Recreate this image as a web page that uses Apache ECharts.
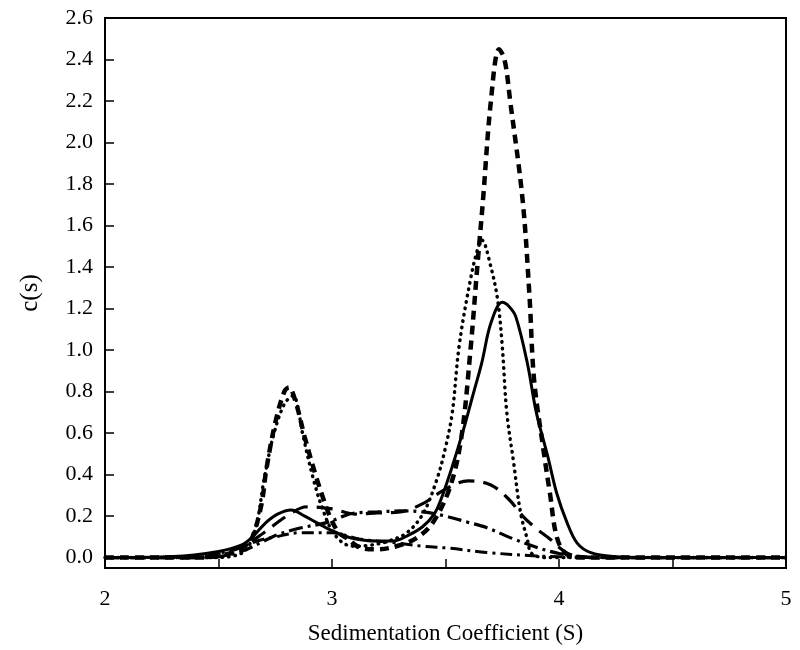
<!DOCTYPE html>
<html>
<head>
<meta charset="utf-8">
<script src="https://cdn.jsdelivr.net/npm/echarts@6/dist/echarts.min.js"></script>
<style>html,body{margin:0;padding:0;background:#fff}#c{width:800px;height:650px}</style>
</head>
<body>
<div id="c"></div>
<script>
// Tick labels
const xTicks = [2, 3, 4, 5];
const yTicks = [0, 0.2, 0.4, 0.6, 0.8, 1.0, 1.2, 1.4, 1.6, 1.8, 2.0, 2.2, 2.4, 2.6];

// Series: [sedimentation coefficient, c(s)]
const solid = [[2.0,0],[2.3,0.005],[2.5,0.03],[2.6,0.06],[2.65,0.1],[2.71,0.17],[2.76,0.21],[2.82,0.23],[2.88,0.2],[2.93,0.17],[3.0,0.13],[3.08,0.096],[3.2,0.08],[3.27,0.08],[3.34,0.11],[3.4,0.15],[3.45,0.21],[3.48,0.28],[3.53,0.44],[3.58,0.62],[3.62,0.78],[3.66,0.94],[3.7,1.13],[3.75,1.23],[3.78,1.21],[3.81,1.16],[3.86,0.94],[3.9,0.7],[3.95,0.49],[3.99,0.31],[4.035,0.17],[4.08,0.07],[4.14,0.024],[4.24,0.005],[4.4,0],[5.0,0]];
const shortDash = [[2.0,0],[2.4,0],[2.55,0.02],[2.62,0.06],[2.65,0.1],[2.69,0.26],[2.71,0.42],[2.75,0.65],[2.79,0.8],[2.81,0.82],[2.84,0.75],[2.88,0.58],[2.93,0.39],[2.96,0.29],[2.99,0.2],[3.03,0.12],[3.07,0.09],[3.12,0.05],[3.2,0.04],[3.3,0.06],[3.38,0.1],[3.445,0.17],[3.52,0.34],[3.57,0.58],[3.61,1.0],[3.64,1.4],[3.665,1.72],[3.70,2.2],[3.736,2.45],[3.76,2.4],[3.785,2.2],[3.84,1.72],[3.87,1.26],[3.89,0.86],[3.93,0.53],[3.96,0.31],[3.99,0.1],[4.03,0.02],[4.1,0],[5.0,0]];
const dotted = [[2.0,0],[2.45,0],[2.6,0.02],[2.66,0.13],[2.70,0.37],[2.74,0.58],[2.79,0.74],[2.83,0.78],[2.85,0.72],[2.87,0.6],[2.92,0.37],[2.96,0.23],[3.0,0.13],[3.05,0.07],[3.1,0.055],[3.17,0.06],[3.25,0.08],[3.33,0.12],[3.40,0.21],[3.46,0.37],[3.50,0.53],[3.53,0.7],[3.56,1.02],[3.61,1.34],[3.64,1.48],[3.66,1.53],[3.70,1.4],[3.73,1.24],[3.75,1.02],[3.77,0.7],[3.80,0.46],[3.83,0.22],[3.86,0.09],[3.88,0.02],[3.95,0],[5.0,0]];
const longDash = [[2.0,0],[2.4,0],[2.5,0.02],[2.6,0.05],[2.7,0.12],[2.8,0.2],[2.89,0.245],[3.0,0.235],[3.1,0.21],[3.2,0.215],[3.3,0.22],[3.4,0.26],[3.5,0.33],[3.6,0.37],[3.7,0.35],[3.78,0.28],[3.84,0.2],[3.9,0.14],[3.96,0.09],[4.0,0.05],[4.05,0.015],[4.15,0],[5.0,0]];
const dashDotA = [[2.0,0],[2.45,0],[2.6,0.03],[2.7,0.08],[2.76,0.11],[2.85,0.14],[2.98,0.17],[3.05,0.2],[3.1,0.215],[3.2,0.22],[3.3,0.225],[3.4,0.22],[3.5,0.2],[3.6,0.17],[3.68,0.145],[3.8,0.09],[3.9,0.05],[4.0,0.02],[4.1,0.005],[4.2,0],[5.0,0]];
const dashDotB = [[2.0,0],[2.4,0],[2.5,0.02],[2.6,0.05],[2.67,0.08],[2.75,0.1],[2.86,0.12],[3.0,0.12],[3.12,0.09],[3.29,0.07],[3.4,0.055],[3.52,0.045],[3.68,0.025],[3.9,0.008],[4.1,0.002],[4.3,0],[5.0,0]];

const font = 'Liberation Serif';
function line(data, type, width, cap) {
  return {
    type: 'line', data: data, smooth: 0.35, showSymbol: false, symbol: 'none',
    lineStyle: { color: '#000', width: width, type: type, cap: cap || 'butt' },
    z: 3
  };
}
const chart = echarts.init(document.getElementById('c'), null, { renderer: 'canvas' });
chart.setOption({
  animation: false,
  backgroundColor: '#fff',
  grid: { left: 105, right: 14, top: 18, bottom: 82, show: true, borderColor: '#000', borderWidth: 2, backgroundColor: 'transparent' },
  xAxis: {
    type: 'value', min: 2, max: 5, interval: 1,
    name: 'Sedimentation Coefficient (S)', nameLocation: 'middle', nameGap: 54,
    nameTextStyle: { fontFamily: font, fontSize: 23, color: '#000' },
    axisLine: { show: true, onZero: false, lineStyle: { color: '#000', width: 2 } },
    axisTick: { show: true, inside: true, length: 9, lineStyle: { color: '#000', width: 1.5 } },
    minorTick: { show: true, splitNumber: 2, length: 9, lineStyle: { color: '#000', width: 1.5 } },
    axisLabel: { fontFamily: font, fontSize: 22, color: '#000', margin: 20, customValues: xTicks, formatter: v => String(v) },
    splitLine: { show: false }
  },
  yAxis: {
    type: 'value', min: -0.05, max: 2.6,
    name: 'c(s)', nameLocation: 'middle', nameGap: 62, nameRotate: 90,
    nameTextStyle: { fontFamily: font, fontSize: 25, color: '#000' },
    axisLine: { show: true, onZero: false, lineStyle: { color: '#000', width: 2 } },
    axisTick: { show: true, inside: true, length: 9, customValues: yTicks, lineStyle: { color: '#000', width: 1.5 } },
    axisLabel: { fontFamily: font, fontSize: 22, color: '#000', margin: 12, customValues: yTicks, formatter: v => v.toFixed(1) },
    splitLine: { show: false }
  },
  series: [
    line(solid, 'solid', 3),
    line(shortDash, [9, 6], 4.5),
    line(dotted, [0.5, 6], 3.5, 'round'),
    line(longDash, [16, 9], 3.2),
    line(dashDotA, [14, 5, 3, 5], 3.2),
    line(dashDotB, [12, 5, 3, 5], 3)
  ]
});
</script>
</body>
</html>
